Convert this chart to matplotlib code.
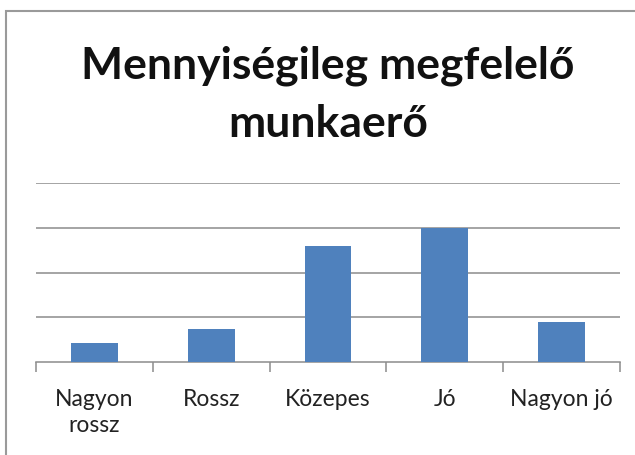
import matplotlib
matplotlib.use("Agg")
import matplotlib.pyplot as plt
from matplotlib.patches import Rectangle

categories = ["Nagyon\nrossz", "Rossz", "Közepes", "Jó", "Nagyon jó"]
values = [0.44, 0.74, 2.58, 3.0, 0.89]
grid_levels = [0, 1, 2, 3, 4]

plt.rcParams['font.family'] = ['Lato', 'DejaVu Sans']

fig = plt.figure(figsize=(6.35, 4.55), dpi=100)
ax = fig.add_axes([36 / 635, 1 - 362.3 / 455, 584 / 635, 179.6 / 455])

x = list(range(len(categories)))
ax.bar(x, values, width=0.4, color="#4F81BD", zorder=3)

ax.set_xlim(-0.5, len(categories) - 0.5)
ax.set_ylim(0, 4)
for g in grid_levels[1:]:
    ax.axhline(g, color="#8C8C8C", lw=1.1, zorder=1)

for s in ["top", "right", "left"]:
    ax.spines[s].set_visible(False)
ax.spines["bottom"].set_color("#8C8C8C")
ax.spines["bottom"].set_linewidth(1.1)
ax.set_yticks([])

ax.set_xticks(x)
ax.set_xticklabels(categories, fontsize=16.5, color="#222222", linespacing=1.3,
                   verticalalignment="top")
ax.tick_params(axis="x", which="major", length=0, pad=19)
ax.set_xticks([i - 0.5 for i in range(len(categories) + 1)], minor=True)
ax.tick_params(axis="x", which="minor", length=7, width=1.1, color="#8C8C8C")

# titel, gecentreerd op het kaartvlak
fig.text(328 / 635, 1 - 78 / 455, "Mennyiségileg megfelelő", ha="center", va="baseline",
         fontsize=32, fontweight="bold", color="#111111")
fig.text(328 / 635, 1 - 137 / 455, "munkaerő", ha="center", va="baseline",
         fontsize=32, fontweight="bold", color="#111111")

fig.patches.append(Rectangle((5.5 / 635, -0.1), 1.2, 1.1 - 11 / 455, transform=fig.transFigure,
                             fill=False, edgecolor="#9A9A9A", lw=1.5, clip_on=False))

fig.savefig("out.png", dpi=100)
